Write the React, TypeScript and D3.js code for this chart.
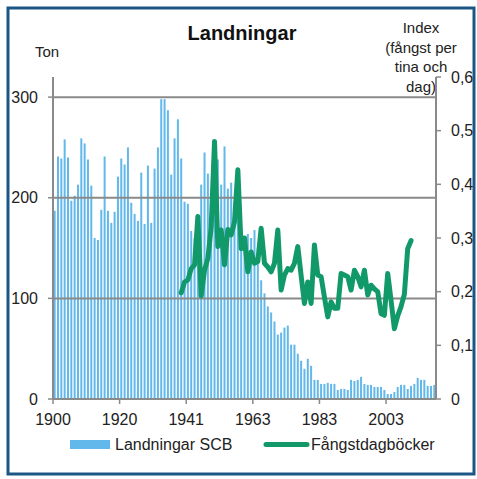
import React from "react";
import * as d3 from "d3";

// Category years on the x axis (some war years missing)
const years: number[] = [
  1900, 1901, 1902, 1903, 1904, 1905, 1906, 1907, 1908, 1909,
  1910, 1911, 1912, 1913, 1914, 1915, 1916, 1917, 1918, 1919,
  1920, 1921, 1922, 1923, 1924, 1925, 1926, 1927, 1928, 1929,
  1930, 1931, 1932, 1933, 1934, 1935, 1936, 1937, 1938, 1939,
  1941, 1942, 1943, 1946, 1947, 1948, 1949, 1950, 1951, 1952,
  1953, 1954, 1955, 1956, 1957, 1958, 1959, 1960, 1961, 1962,
  1963, 1964, 1965, 1966, 1967, 1968, 1969, 1970, 1971, 1972,
  1973, 1974, 1975, 1976, 1977, 1978, 1979, 1980, 1981, 1982,
  1983, 1984, 1985, 1986, 1987, 1988, 1989, 1990, 1991, 1992,
  1993, 1994, 1995, 1996, 1997, 1998, 1999, 2000, 2001, 2002,
  2003, 2004, 2005, 2006, 2007, 2008, 2009, 2010, 2011, 2012,
  2013, 2014, 2015, 2016, 2017,
];

// Landningar SCB (ton)
const landningar: number[] = [
  187, 241, 239, 258, 240, 197, 202, 213, 259, 254,
  238, 212, 160, 158, 188, 241, 187, 175, 186, 221,
  239, 233, 250, 195, 184, 177, 225, 174, 232, 175,
  229, 250, 298, 298, 287, 223, 259, 278, 239, 196,
  194, 167, 160, 175, 213, 245, 224, 200, 210, 238,
  213, 251, 209, 215, 195, 185, 161, 160, 164, 160,
  168, 150, 118, 105, 92, 86, 77, 64, 66, 71,
  73, 54, 54, 45, 38, 30, 40, 33, 19, 19,
  15, 15, 16, 15, 15, 9, 10, 10, 9, 19,
  18, 19, 22, 15, 14, 14, 12, 12, 12, 9,
  5, 5, 7, 12, 14, 14, 10, 13, 15, 21,
  19, 19, 13, 13, 14,
];

// Fångstdagböcker index, starting at year below
const fangstStartYear = 1938;
const fangst: number[] = [
  0.198, 0.218, 0.222, 0.243, 0.250, 0.340, 0.192, 0.240, 0.262, 0.320,
  0.480, 0.284, 0.315, 0.250, 0.316, 0.306, 0.330, 0.427, 0.280, 0.300,
  0.237, 0.274, 0.253, 0.256, 0.318, 0.253, 0.246, 0.237, 0.253, 0.315,
  0.203, 0.231, 0.243, 0.240, 0.253, 0.284, 0.230, 0.178, 0.218, 0.178,
  0.287, 0.231, 0.228, 0.190, 0.153, 0.181, 0.169, 0.169, 0.234, 0.231,
  0.228, 0.203, 0.240, 0.228, 0.209, 0.240, 0.194, 0.212, 0.205, 0.200,
  0.159, 0.156, 0.234, 0.184, 0.131, 0.155, 0.172, 0.195, 0.280, 0.295,
];

const leftTicks = [0, 100, 200, 300];
const rightTicks = [0, 0.1, 0.2, 0.3, 0.4, 0.5, 0.6];
const xLabelEvery = 20;

const FONT = "'Liberation Sans', Arial, sans-serif";
const BAR = "#62b8ea";
const GREEN = "#12996a";
const GRID = "#8a8a8a";

export default function App() {
  const W = 477, H = 479;
  const left = 53, right = 436, top = 77, bottom = 399;

  const x = d3.scaleBand<number>()
    .domain(d3.range(years.length))
    .range([left, right])
    .paddingInner(0.4)
    .paddingOuter(0.2);
  const yL = d3.scaleLinear().domain([0, 320]).range([bottom, top]);
  const yR = d3.scaleLinear().domain([0, 0.6]).range([bottom, top]);

  const startIdx = years.indexOf(fangstStartYear);
  const lineGen = d3.line<number>()
    .x((_, i) => (x(startIdx + i) as number) + x.bandwidth() / 2)
    .y((d) => yR(d))
    .curve(d3.curveLinear);

  const xTickIdx = d3.range(0, years.length, xLabelEvery);
  const boundary = (i: number) => left + (right - left) * (i / years.length);
  const fmtR = (v: number) => (v === 0 ? "0" : d3.format(".1f")(v).replace(".", ","));

  return (
    <svg width={W} height={H} style={{ position: "absolute", left: 0, top: 0, background: "#fff" }}
      fontFamily={FONT}>
      <rect x={0} y={0} width={W} height={H} fill="#fff" />
      <rect x={8} y={8} width={466} height={466} fill="none" stroke="#1b5684" strokeWidth={3} />

      <text x={242} y={40} textAnchor="middle" fontSize={20} fontWeight="bold" fill="#111">Landningar</text>
      <text x={47} y={57} textAnchor="middle" fontSize={15} fill="#222">Ton</text>
      {["Index", "(fångst per", "tina och", "dag)"].map((t, i) => (
        <text key={t} x={421} y={33 + i * 19.7} textAnchor="middle" fontSize={15} fill="#222">{t}</text>
      ))}

      {/* bars */}
      {landningar.map((v, i) => (
        <rect key={i} x={x(i)} y={yL(v)} width={x.bandwidth()} height={bottom - yL(v)} fill={BAR} />
      ))}

      {/* gridlines */}
      {leftTicks.filter((t) => t > 0).map((t) => (
        <line key={t} x1={left} x2={right} y1={yL(t)} y2={yL(t)} stroke={GRID} strokeWidth={2} />
      ))}

      {/* axes */}
      <line x1={left} x2={left} y1={top} y2={bottom} stroke={GRID} strokeWidth={2} />
      <line x1={right} x2={right} y1={top} y2={bottom} stroke={GRID} strokeWidth={2} />
      <line x1={left} x2={right} y1={bottom} y2={bottom} stroke={GRID} strokeWidth={2} />

      {leftTicks.map((t) => (
        <g key={t}>
          <line x1={left - 5} x2={left} y1={yL(t)} y2={yL(t)} stroke={GRID} strokeWidth={1.5} />
          <text x={38} y={yL(t)} dy="0.35em" textAnchor="end" fontSize={16} fill="#222">{t}</text>
        </g>
      ))}
      {rightTicks.map((t) => (
        <g key={t}>
          <line x1={right} x2={right + 5} y1={yR(t)} y2={yR(t)} stroke={GRID} strokeWidth={1.5} />
          <text x={451} y={yR(t)} dy="0.35em" textAnchor="start" fontSize={16} fill="#222">{fmtR(t)}</text>
        </g>
      ))}
      {xTickIdx.map((i) => (
        <g key={i}>
          <line x1={boundary(i)} x2={boundary(i)} y1={bottom} y2={bottom + 5} stroke={GRID} strokeWidth={1.5} />
          <text x={boundary(i)} y={425} textAnchor="middle" fontSize={16} fill="#222">{years[i]}</text>
        </g>
      ))}

      {/* line */}
      <path d={lineGen(fangst) || ""} fill="none" stroke={GREEN} strokeWidth={5}
        strokeLinejoin="round" strokeLinecap="round" />

      {/* legend */}
      <rect x={70} y={440} width={40} height={9} fill={BAR} />
      <text x={115} y={450} fontSize={16} fill="#222">Landningar SCB</text>
      <line x1={266} x2={307} y1={444.5} y2={444.5} stroke={GREEN} strokeWidth={5} strokeLinecap="round" />
      <text x={311} y={450} fontSize={16} fill="#222">Fångstdagböcker</text>
    </svg>
  );
}
